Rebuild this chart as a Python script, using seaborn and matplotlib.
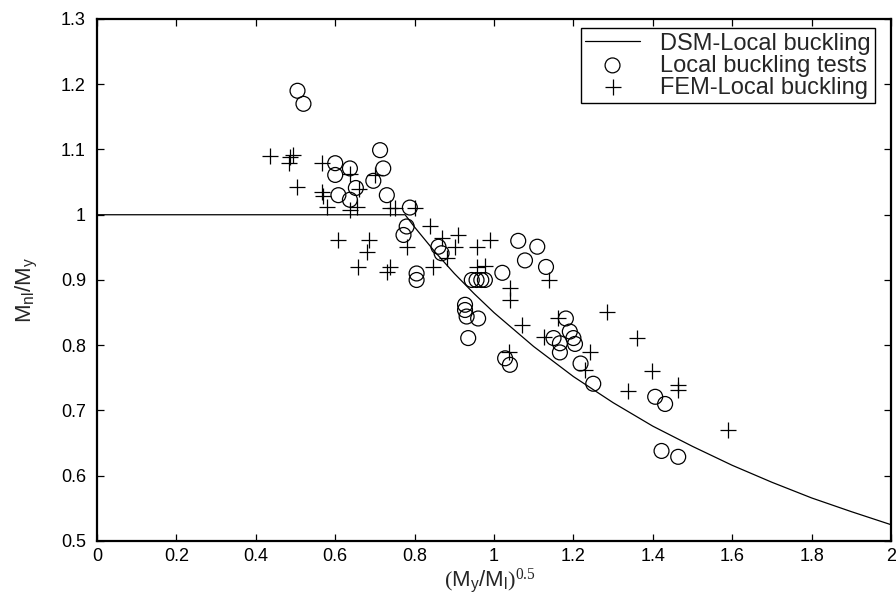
import matplotlib.pyplot as plt
import seaborn as sns

# DSM local buckling curve
lam_dsm = [0, 0.776, 0.8, 0.85, 0.9, 0.95, 1.0, 1.1, 1.2, 1.3, 1.4, 1.5, 1.6, 1.7, 1.8, 1.9, 2.0]
mnl_dsm = [1.0, 1.0, 0.981, 0.944, 0.910, 0.879, 0.850, 0.798, 0.752, 0.712, 0.676, 0.645,
           0.616, 0.590, 0.566, 0.545, 0.525]

# local buckling tests (circles)
test_x = [0.505, 0.520, 0.713, 0.600, 0.637, 0.600, 0.721, 0.696, 0.608, 0.652, 0.637, 0.730,
          0.788, 0.780, 0.772, 0.860, 0.868, 0.805, 0.805, 0.944, 0.956, 0.968, 0.977, 1.021,
          0.927, 0.927, 0.931, 0.960, 0.935, 1.028, 1.040, 1.061, 1.109, 1.078, 1.131, 1.181,
          1.150, 1.191, 1.200, 1.166, 1.204, 1.166, 1.218, 1.250, 1.406, 1.431, 1.422, 1.464]
test_y = [1.190, 1.170, 1.099, 1.079, 1.071, 1.061, 1.071, 1.052, 1.030, 1.041, 1.023, 1.030,
          1.011, 0.982, 0.969, 0.951, 0.941, 0.910, 0.900, 0.900, 0.900, 0.900, 0.900, 0.911,
          0.862, 0.854, 0.844, 0.841, 0.811, 0.780, 0.770, 0.960, 0.951, 0.930, 0.920, 0.841,
          0.811, 0.821, 0.811, 0.803, 0.802, 0.789, 0.772, 0.741, 0.721, 0.710, 0.638, 0.629]

# FEM local buckling (plus signs)
fem_x = [0.436, 0.486, 0.494, 0.484, 0.503, 0.566, 0.637, 0.700, 0.566, 0.570, 0.660, 0.579,
         0.637, 0.654, 0.738, 0.751, 0.800, 0.839, 0.608, 0.686, 0.679, 0.780, 0.868, 0.910,
         0.902, 0.881, 0.847, 0.956, 0.990, 0.658, 0.730, 0.738, 0.958, 0.978, 1.139, 1.040,
         1.040, 1.070, 1.284, 1.162, 1.125, 1.242, 1.359, 1.039, 1.229, 1.397, 1.338, 1.464,
         1.464, 1.590]
fem_y = [1.090, 1.089, 1.092, 1.079, 1.042, 1.079, 1.063, 1.061, 1.035, 1.028, 1.040, 1.012,
         1.007, 1.012, 1.010, 1.010, 1.010, 0.982, 0.961, 0.962, 0.943, 0.951, 0.964, 0.969,
         0.951, 0.933, 0.920, 0.951, 0.961, 0.920, 0.913, 0.920, 0.920, 0.922, 0.900, 0.887,
         0.870, 0.831, 0.851, 0.841, 0.813, 0.789, 0.811, 0.790, 0.762, 0.761, 0.730, 0.739,
         0.731, 0.670]

xticks = [0, 0.2, 0.4, 0.6, 0.8, 1.0, 1.2, 1.4, 1.6, 1.8, 2.0]
xtick_labels = ['0', '0.2', '0.4', '0.6', '0.8', '1', '1.2', '1.4', '1.6', '1.8', '2']
yticks = [0.5, 0.6, 0.7, 0.8, 0.9, 1.0, 1.1, 1.2, 1.3]
ytick_labels = ['0.5', '0.6', '0.7', '0.8', '0.9', '1', '1.1', '1.2', '1.3']

sns.set_style('ticks')
plt.rcParams['font.family'] = ['Liberation Sans', 'DejaVu Sans']
plt.rcParams['mathtext.fontset'] = 'custom'
plt.rcParams['mathtext.rm'] = 'Liberation Serif'
plt.rcParams['mathtext.sf'] = 'Liberation Sans'

fig = plt.figure(figsize=(8.96, 6.05), dpi=100)
ax = fig.add_axes([0.1083, 0.1058, 0.8861, 0.8628])

sns.lineplot(x=lam_dsm, y=mnl_dsm, color='black', linewidth=0.9, ax=ax,
             label='DSM-Local buckling')
sns.scatterplot(x=test_x, y=test_y, marker='o', s=115, color='black', facecolor='none',
                edgecolor='black', linewidth=0.9, ax=ax, label='Local buckling tests')
sns.scatterplot(x=fem_x, y=fem_y, marker='+', s=130, color='black', linewidth=0.9, ax=ax,
                label='FEM-Local buckling')

ax.set_xlim(0, 2)
ax.set_ylim(0.5, 1.3)
ax.set_xticks(xticks, xtick_labels)
ax.set_yticks(yticks, ytick_labels)
ax.tick_params(direction='in', top=True, right=True, length=5, width=0.9,
               labelsize=13, colors='black')
ax.tick_params(axis='x', pad=5)
ax.tick_params(axis='y', pad=8)
for sp in ax.spines.values():
    sp.set_linewidth(1.6)
    sp.set_color('black')

ax.set_xlabel(r'$\mathrm{(}\mathsf{M_y/M_l}\mathrm{)^{0.5}}$', fontsize=16)
ax.set_ylabel(r'$\mathsf{M_{nl}/M_y}$', fontsize=16)
ax.xaxis.set_label_coords(0.495, -0.050)
ax.yaxis.set_label_coords(-0.072, 0.481)

leg = ax.legend(loc='upper right', bbox_to_anchor=(0.980, 0.983), borderaxespad=0,
                fontsize=17, frameon=True, fancybox=False, edgecolor='black',
                framealpha=1, labelspacing=0.0, handlelength=2.3, borderpad=0.2,
                handletextpad=0.85)
leg.get_frame().set_linewidth(1.0)

fig.savefig('out.png', dpi=100)
